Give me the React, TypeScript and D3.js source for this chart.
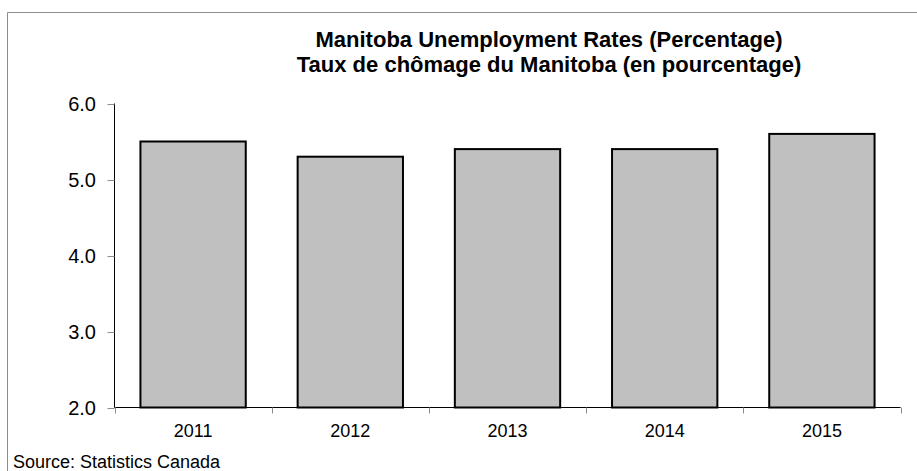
import React, { useEffect, useRef } from 'react';
import * as d3 from 'd3';

const years = ['2011', '2012', '2013', '2014', '2015'];
const rates = [5.5, 5.3, 5.4, 5.4, 5.6];
const yTicks = [2, 3, 4, 5, 6];
const titleLines = [
  'Manitoba Unemployment Rates (Percentage)',
  'Taux de chômage du Manitoba (en pourcentage)',
];
const sourceNote = 'Source: Statistics Canada';

const W = 917;
const H = 471;
const FONT = 'Arial, "Liberation Sans", Helvetica, sans-serif';

const App: React.FC = () => {
  const svgRef = useRef<SVGSVGElement>(null);

  useEffect(() => {
    if (!svgRef.current) return;
    const svg = d3.select(svgRef.current);
    svg.selectAll('*').remove();

    const left = 114.5;
    const right = 900.5;
    const top = 103.5;
    const bottom = 407.5;

    // outer frame (top + left only visible)
    svg.append('path')
      .attr('d', `M7.5,${H} V12.5 H${W}`)
      .attr('fill', 'none')
      .attr('stroke', '#8c8c8c')
      .attr('stroke-width', 1);

    const x = d3.scaleBand<string>()
      .domain(years)
      .range([left, right])
      .paddingInner(0.33)
      .paddingOuter(0.165);

    const y = d3.scaleLinear()
      .domain([2, 6])
      .range([bottom, top]);

    // bars
    svg.append('g')
      .selectAll('rect')
      .data(rates)
      .join('rect')
      .attr('x', (_, i) => x(years[i])!)
      .attr('y', d => y(d))
      .attr('width', x.bandwidth())
      .attr('height', d => y(2) - y(d))
      .attr('fill', '#c0c0c0')
      .attr('stroke', '#000')
      .attr('stroke-width', 2);

    // y axis
    const yAxis = svg.append('g');
    yAxis.append('line')
      .attr('x1', left).attr('x2', left)
      .attr('y1', top).attr('y2', bottom)
      .attr('stroke', '#000');
    yAxis.selectAll('line.tick')
      .data(yTicks)
      .join('line')
      .attr('class', 'tick')
      .attr('x1', left - 7).attr('x2', left)
      .attr('y1', d => Math.round(y(d)) + 0.5)
      .attr('y2', d => Math.round(y(d)) + 0.5)
      .attr('stroke', '#8c8c8c');
    yAxis.selectAll('text')
      .data(yTicks)
      .join('text')
      .attr('x', 96)
      .attr('y', d => y(d) + 7.5)
      .attr('text-anchor', 'end')
      .attr('font-family', FONT)
      .attr('font-size', 20)
      .attr('fill', '#000')
      .text(d => d.toFixed(1));

    // x axis
    const xAxis = svg.append('g');
    xAxis.append('line')
      .attr('x1', left).attr('x2', right)
      .attr('y1', bottom).attr('y2', bottom)
      .attr('stroke', '#000');
    const step = (right - left) / years.length;
    xAxis.selectAll('line.tick')
      .data(d3.range(years.length + 1))
      .join('line')
      .attr('class', 'tick')
      .attr('x1', i => Math.round(left + i * step) + 0.5)
      .attr('x2', i => Math.round(left + i * step) + 0.5)
      .attr('y1', bottom).attr('y2', bottom + 6)
      .attr('stroke', '#8c8c8c');
    xAxis.selectAll('text')
      .data(years)
      .join('text')
      .attr('x', d => x(d)! + x.bandwidth() / 2)
      .attr('y', 437)
      .attr('text-anchor', 'middle')
      .attr('font-family', FONT)
      .attr('font-size', 18)
      .attr('fill', '#000')
      .text(d => d);

    // title
    svg.append('g')
      .selectAll('text')
      .data(titleLines)
      .join('text')
      .attr('x', 549)
      .attr('y', (_, i) => 47 + i * 24.5)
      .attr('text-anchor', 'middle')
      .attr('font-family', FONT)
      .attr('font-size', 22)
      .attr('font-weight', 'bold')
      .attr('fill', '#000')
      .text(d => d);

    // source
    svg.append('text')
      .attr('x', 13)
      .attr('y', 468)
      .attr('font-family', FONT)
      .attr('font-size', 18)
      .attr('fill', '#000')
      .text(sourceNote);
  }, []);

  return (
    <div style={{ position: 'absolute', left: 0, top: 0, width: W, height: H, background: '#fff' }}>
      <svg ref={svgRef} width={W} height={H} style={{ display: 'block' }} />
    </div>
  );
};

export default App;
